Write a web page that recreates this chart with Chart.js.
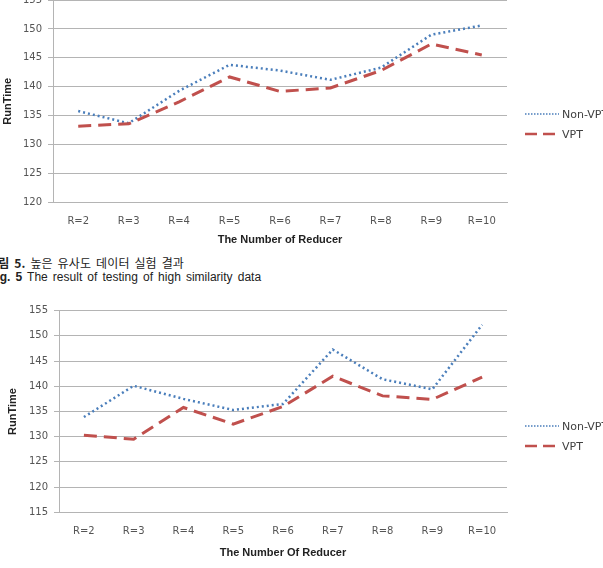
<!DOCTYPE html>
<html>
<head>
<meta charset="utf-8">
<script src="https://cdn.jsdelivr.net/npm/chart.js@4/dist/chart.umd.min.js"></script>
<style>
  html, body { margin: 0; padding: 0; background: #fff; }
  body { width: 603px; height: 568px; position: relative; overflow: hidden; }
  .chart-box { position: absolute; left: 0; width: 603px; }
  .legend { position: absolute; left: 525px; font: 11px "DejaVu Sans", sans-serif; color: #404040; white-space: nowrap; }
  .legend div { height: 20px; display: flex; align-items: center; }
  .legend svg { margin-right: 3px; }
  .caption { position: absolute; white-space: nowrap; color: #222; }
  .cap-ko { font: 12px "Noto Sans CJK KR", sans-serif; top: 254px; left: -13px; line-height: 18px; word-spacing: 2px; letter-spacing: 0.15px; }
  .cap-en { font: 12px "Liberation Sans", Arial, sans-serif; top: 269px; left: -11px; line-height: 16px; word-spacing: 1.8px; }
</style>
</head>
<body>

<div class="chart-box" style="top:-12px;height:262px;"><canvas id="chart-high"></canvas></div>
<div class="chart-box" style="top:285px;height:283px;"><canvas id="chart-low"></canvas></div>

<div class="legend" style="top:104px;">
  <div><svg width="34" height="4"><line x1="0" y1="2" x2="34" y2="2" stroke="#4a7ebb" stroke-width="1.5" stroke-dasharray="1.5,1.5"/></svg>Non-VPT</div>
  <div><svg width="34" height="4"><line x1="0" y1="2" x2="34" y2="2" stroke="#c0504d" stroke-width="2.5" stroke-dasharray="12,6"/></svg>VPT</div>
</div>
<div class="legend" style="top:416px;">
  <div><svg width="34" height="4"><line x1="0" y1="2" x2="34" y2="2" stroke="#4a7ebb" stroke-width="1.5" stroke-dasharray="1.5,1.5"/></svg>Non-VPT</div>
  <div><svg width="34" height="4"><line x1="0" y1="2" x2="34" y2="2" stroke="#c0504d" stroke-width="2.5" stroke-dasharray="12,6"/></svg>VPT</div>
</div>

<div class="caption cap-ko"><b>그림 5.</b> 높은 유사도 데이터 실험 결과</div>
<div class="caption cap-en"><b>Fig. 5</b> The result of testing of high similarity data</div>

<script>
const reducers = ['R=2', 'R=3', 'R=4', 'R=5', 'R=6', 'R=7', 'R=8', 'R=9', 'R=10'];

// high similarity data (upper chart)
const highNonVpt = [135.8, 133.7, 139.3, 143.8, 142.8, 141.2, 143.3, 149.0, 150.6];
const highVpt = [133.2, 133.6, 137.4, 141.7, 139.2, 139.8, 142.8, 147.4, 145.5];

// lower chart
const lowNonVpt = [133.9, 140.1, 137.5, 135.3, 136.5, 147.3, 141.4, 139.4, 152.2];
const lowVpt = [130.3, 129.5, 135.8, 132.5, 136.0, 142.0, 138.1, 137.4, 141.8];

const gridColor = '#b4b4b4';
const tickFont = { family: 'DejaVu Sans', size: 10 };
const titleFont = { family: 'Liberation Sans', size: 11, weight: 'bold' };

function makeChart(id, nonVpt, vpt, cfg) {
  const ctx = document.getElementById(id).getContext('2d');
  return new Chart(ctx, {
    type: 'line',
    data: {
      labels: reducers,
      datasets: [
        {
          label: 'VPT',
          data: vpt,
          borderColor: '#c0504d',
          borderWidth: 3,
          borderDash: [13, 7],
          pointRadius: 0,
          tension: 0,
          fill: false
        },
        {
          label: 'Non-VPT',
          data: nonVpt,
          borderColor: '#4a7ebb',
          borderWidth: 2.5,
          borderDash: [2, 3],
          pointRadius: 0,
          tension: 0,
          fill: false
        }
      ]
    },
    options: {
      responsive: true,
      maintainAspectRatio: false,
      animation: false,
      layout: { padding: { top: cfg.padTop, right: 96, bottom: cfg.padBottom, left: 0 } },
      plugins: {
        legend: { display: false },
        tooltip: { enabled: false }
      },
      scales: {
        x: {
          offset: true,
          grid: { display: false },
          border: { display: true, color: gridColor, width: 1 },
          ticks: { color: '#555', font: tickFont, padding: cfg.xPad, maxRotation: 0 },
          title: { display: true, text: cfg.xTitle, color: '#222', font: titleFont, padding: 0 },
          afterFit: s => { s.height = cfg.xHeight; }
        },
        y: {
          min: cfg.yMin,
          max: 155,
          ticks: { stepSize: 5, color: '#555', font: tickFont, padding: 6 },
          grid: { color: gridColor, lineWidth: 1, tickLength: 5 },
          border: { display: true, color: gridColor, width: 1 },
          title: { display: true, text: 'RunTime', color: '#222', font: titleFont, padding: { top: cfg.yTitlePad, bottom: 0 } },
          afterFit: s => { s.width = cfg.yWidth; }
        }
      }
    }
  });
}

function initCharts() {
  makeChart('chart-high', highNonVpt, highVpt, {
    padTop: 11, padBottom: 3.5, xPad: 4.5, xHeight: 44, yWidth: 53, yMin: 120,
    yTitlePad: 1, xTitle: 'The Number of Reducer'
  });
  makeChart('chart-low', lowNonVpt, lowVpt, {
    padTop: 25.7, padBottom: 8.4, xPad: 5.4, xHeight: 47.3, yWidth: 59, yMin: 115,
    yTitlePad: 6, xTitle: 'The Number Of Reducer'
  });
}

initCharts();
</script>
</body>
</html>
